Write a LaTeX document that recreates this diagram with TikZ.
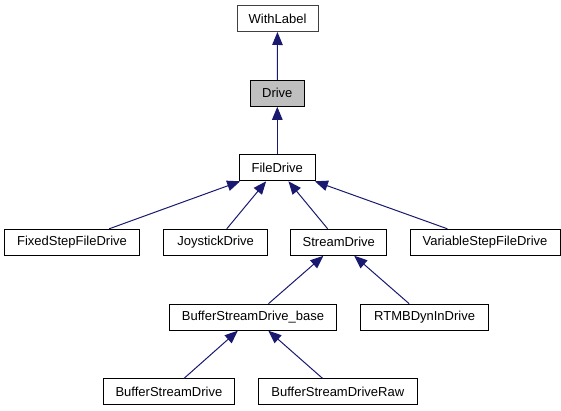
\documentclass[tikz,border=0pt]{standalone}
\usepackage{fontspec}
\setmainfont{Liberation Sans}
\usepackage{tikz}
\usetikzlibrary{arrows.meta}
\definecolor{edgeblue}{RGB}{25,25,112}
\definecolor{drivegray}{RGB}{191,191,191}

\begin{document}
\begin{tikzpicture}[x=1pt, y=-1pt,
		cls/.style={draw=black, line width=1pt, minimum height=26pt, inner sep=0pt, font=\fontsize{13}{15}\selectfont},
		inherit/.style={edgeblue, line width=1pt, -{Triangle[length=13pt, width=10.5pt]}}]
			\useasboundingbox (0,0) rectangle (561,411);
			\node[cls, draw=black!75, minimum width=81pt] (withlabel) at (277.5,18.5) {WithLabel};
			\node[cls, fill=drivegray, minimum width=54pt] (drive) at (277.3,93.3) {Drive};
			\node[cls, minimum width=75.5pt] (filedrive) at (277.3,167.8) {FileDrive};
			\node[cls, minimum width=135.3pt] (fixedstep) at (72,242.3) {FixedStepFileDrive};
			\node[cls, minimum width=103.3pt] (joystick) at (215.6,242.3) {JoystickDrive};
			\node[cls, minimum width=95.7pt] (stream) at (338.8,242.3) {StreamDrive};
			\node[cls, minimum width=150pt] (varstep) at (485,242.3) {VariableStepFileDrive};
			\node[cls, minimum width=166.5pt] (bufbase) at (253,317.2) {BufferStreamDrive\_base};
			\node[cls, minimum width=127.7pt] (rtmbdyn) at (424.6,317.2) {RTMBDynInDrive};
			\node[cls, minimum width=131.3pt] (bufdrive) at (168.9,391.8) {BufferStreamDrive};
			\node[cls, minimum width=159pt] (bufraw) at (337.8,391.8) {BufferStreamDriveRaw};
			\draw[inherit] (drive) -- (withlabel);
			\draw[inherit] (filedrive) -- (drive);
			\draw[inherit] (fixedstep) -- (filedrive);
			\draw[inherit] (joystick) -- (filedrive);
			\draw[inherit] (stream) -- (filedrive);
			\draw[inherit] (varstep) -- (filedrive);
			\draw[inherit] (bufbase) -- (stream);
			\draw[inherit] (rtmbdyn) -- (stream);
			\draw[inherit] (bufdrive) -- (bufbase);
			\draw[inherit] (bufraw) -- (bufbase);
	\end{tikzpicture}
\end{document}
